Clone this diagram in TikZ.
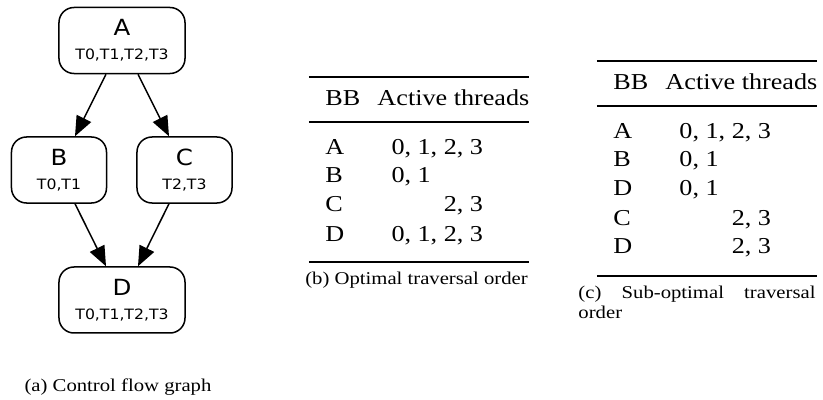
\documentclass[tikz,border=0pt]{standalone}
\usepackage{fontspec}
\setmainfont{Liberation Serif}[FakeStretch=1.15]
\newfontfamily\graphfont{DejaVu Sans}[FakeStretch=1.1]
\usetikzlibrary{arrows.meta,calc}
\newcommand{\tabfont}{\fontsize{9.1}{10.4}\selectfont}
\newcommand{\capfont}{\fontsize{7.2}{8}\selectfont}
\newcommand{\bbfont}{\graphfont\fontsize{8.9}{9.6}\selectfont}
\newcommand{\thrfont}{\graphfont\fontsize{5.7}{9.6}\selectfont}
\newcommand{\nohyph}{\hyphenpenalty=10000\relax}
\tikzset{
  block/.style    ={rectangle,draw,rounded corners=6pt,line width=0.6pt,
                    minimum height=26.4pt,align=center,inner sep=0pt,font=\bbfont},
  wide/.style     ={minimum width=50.4pt},
  narrow/.style   ={minimum width=38pt},
  flow/.style     ={-{Triangle[length=8pt,width=6.4pt]},line width=0.6pt},
  cell/.style     ={anchor=base west,inner sep=0pt,font=\tabfont},
  caption/.style  ={inner sep=0pt,font=\capfont},
  heavyrule/.style={line width=1pt},
  lightrule/.style={line width=0.6pt}
}

\begin{document}
\begin{tikzpicture}[x=0.4pt,y=-0.4pt]
  \useasboundingbox (0,0) rectangle (823,400);

  % (a) control flow graph
  \node (A) [block, wide]   at (122,40.5) {A\\{\thrfont T0,T1,T2,T3}};
  \node (B) [block, narrow] at (59,170)   {B\\{\thrfont T0,T1}};
  \node (C) [block, narrow] at (184.5,170) {C\\{\thrfont T2,T3}};
  \node (D) [block, wide]   at (122,300)  {D\\{\thrfont T0,T1,T2,T3}};

  \draw [flow] ($(A.south)+(-16,0)$) -- ($(B.north)+(16,0)$);
  \draw [flow] ($(A.south)+(16,0)$) -- ($(C.north)+(-15.5,0)$);
  \draw [flow] ($(B.south)+(16,0)$) -- ($(D.north)+(-16,0)$);
  \draw [flow] ($(C.south)+(-15.5,0)$) -- ($(D.north)+(16,0)$);

  \node (acap) [caption, anchor=base] at (118,392) {(a) Control flow graph};

  % (b) optimal order
  \draw [heavyrule] (309,77) -- (529,77);
  \node (bhead)  [cell] at (325,106) {BB};
  \node (bact)   [cell] at (377,106) {Active threads};
  \draw [lightrule] (309,122) -- (529,122);
  \node (brow1)  [cell] at (325,154) {A};
  \node (bthr1)  [cell] at (391,154) {0, 1, 2, 3};
  \node (brow2)  [cell] at (325,183) {B};
  \node (bthr2)  [cell] at (391,183) {0, 1};
  \node (brow3)  [cell] at (325,212) {C};
  \node (bthr3)  [cell] at (391,212) {\phantom{0, 1, }2, 3};
  \node (brow4)  [cell] at (325,241) {D};
  \node (bthr4)  [cell] at (391,241) {0, 1, 2, 3};
  \draw [heavyrule] (309,262) -- (529,262);
  \node (bcap) [caption, anchor=base] at (416.5,285) {(b) Optimal traversal order};

  % (c) sub-optimal order
  \draw [heavyrule] (597,61) -- (817,61);
  \node (chead)  [cell] at (613,90) {BB};
  \node (cact)   [cell] at (665,90) {Active threads};
  \draw [lightrule] (597,106) -- (817,106);
  \node (crow1)  [cell] at (613,138) {A};
  \node (cthr1)  [cell] at (679,138) {0, 1, 2, 3};
  \node (crow2)  [cell] at (613,167) {B};
  \node (cthr2)  [cell] at (679,167) {0, 1};
  \node (crow3)  [cell] at (613,196) {D};
  \node (cthr3)  [cell] at (679,196) {0, 1};
  \node (crow4)  [cell] at (613,225) {C};
  \node (cthr4)  [cell] at (679,225) {\phantom{0, 1, }2, 3};
  \node (crow5)  [cell] at (613,254) {D};
  \node (cthr5)  [cell] at (679,254) {\phantom{0, 1, }2, 3};
  \draw [heavyrule] (597,276) -- (817,276);
  \node (ccap) [caption, anchor=north west, text width=94.8pt, align=justify,
                font=\capfont\nohyph]
        at (578,286) {(c) Sub-optimal traversal order};
\end{tikzpicture}
\end{document}
